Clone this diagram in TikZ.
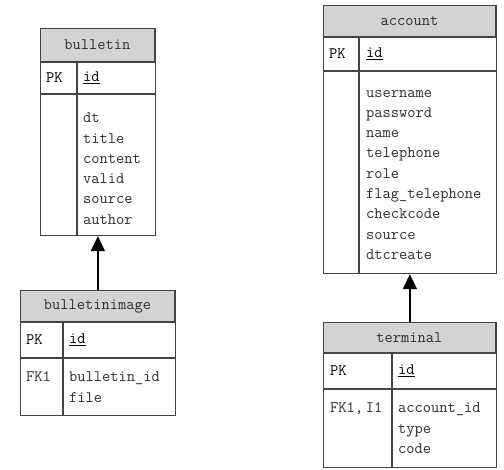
\documentclass[tikz,border=0pt]{standalone}
\usepackage{fontspec}
\usetikzlibrary{positioning,arrows.meta,fit,calc}

\definecolor{hdrgray}{HTML}{D3D3D3}
\definecolor{rulegray}{HTML}{444444}
\definecolor{txtgray}{HTML}{2E2E2E}

\begin{document}
\begin{tikzpicture}[
  x=1pt, y=-1pt,
  font=\ttfamily\fontsize{16pt}{20.3pt}\selectfont,
  head/.style={rectangle, draw=rulegray, fill=hdrgray, line width=0.9pt, text=txtgray, inner sep=0pt, anchor=north west},
  cell/.style={rectangle, draw=rulegray, line width=0.9pt, inner sep=0pt, anchor=north west},
  key/.style={anchor=west, inner sep=0pt, text=black},
  fields/.style={anchor=north west, inner sep=0pt, align=left, text=txtgray},
  table/.style={inner sep=0pt, draw=rulegray, line width=0.9pt},
  link/.style={-{Triangle[width=14pt,length=15pt]}, line width=1.8pt}
]
\useasboundingbox (0,0) rectangle (504,470);

% bulletin
\node[head, minimum width=114, minimum height=33] (bulletin-head) at (40,28) {bulletin};
\node[cell, minimum width=36, minimum height=31] (bulletin-pk) at (bulletin-head.south west) {};
\node[cell, minimum width=78, minimum height=31] (bulletin-id) at (bulletin-pk.north east) {};
\node[cell, minimum width=36, minimum height=141] (bulletin-k) at (bulletin-pk.south west) {};
\node[cell, minimum width=78, minimum height=141] (bulletin-f) at (bulletin-k.north east) {};
\node[key] (bulletin-pkt) at ($(bulletin-pk.west)+(6,0)$) {PK};
\node[key] (bulletin-idt) at ($(bulletin-id.west)+(6,0)$) {\underline{id}};
\node[fields] (bulletin-ft) at ($(bulletin-f.north west)+(6,19)$) {dt\\title\\content\\valid\\source\\author};
\node[table, fit=(bulletin-head)(bulletin-f)] (bulletin) {};

% bulletinimage
\node[head, minimum width=154, minimum height=31] (bulletinimage-head) at (20,290) {bulletinimage};
\node[cell, minimum width=42, minimum height=35] (bulletinimage-pk) at (bulletinimage-head.south west) {};
\node[cell, minimum width=112, minimum height=35] (bulletinimage-id) at (bulletinimage-pk.north east) {};
\node[cell, minimum width=42, minimum height=57] (bulletinimage-k) at (bulletinimage-pk.south west) {};
\node[cell, minimum width=112, minimum height=57] (bulletinimage-f) at (bulletinimage-k.north east) {};
\node[key] (bulletinimage-pkt) at ($(bulletinimage-pk.west)+(6,0)$) {PK};
\node[key] (bulletinimage-idt) at ($(bulletinimage-id.west)+(6,0)$) {\underline{id}};
\node[fields] (bulletinimage-kt) at ($(bulletinimage-k.north west)+(6,14)$) {FK1};
\node[fields] (bulletinimage-ft) at ($(bulletinimage-f.north west)+(6,14)$) {bulletin\_id\\file};
\node[table, fit=(bulletinimage-head)(bulletinimage-f)] (bulletinimage) {};

% account
\node[head, minimum width=172, minimum height=31] (account-head) at (323,5) {account};
\node[cell, minimum width=35, minimum height=33] (account-pk) at (account-head.south west) {};
\node[cell, minimum width=137, minimum height=33] (account-id) at (account-pk.north east) {};
\node[cell, minimum width=35, minimum height=202] (account-k) at (account-pk.south west) {};
\node[cell, minimum width=137, minimum height=202] (account-f) at (account-k.north east) {};
\node[key] (account-pkt) at ($(account-pk.west)+(6,0)$) {PK};
\node[key] (account-idt) at ($(account-id.west)+(7,0)$) {\underline{id}};
\node[fields] (account-ft) at ($(account-f.north west)+(7,19)$) {username\\password\\name\\telephone\\role\\flag\_telephone\\checkcode\\source\\dtcreate};
\node[table, fit=(account-head)(account-f)] (account) {};

% terminal
\node[head, minimum width=172, minimum height=30] (terminal-head) at (323,322) {terminal};
\node[cell, minimum width=68, minimum height=35] (terminal-pk) at (terminal-head.south west) {};
\node[cell, minimum width=104, minimum height=35] (terminal-id) at (terminal-pk.north east) {};
\node[cell, minimum width=68, minimum height=78] (terminal-k) at (terminal-pk.south west) {};
\node[cell, minimum width=104, minimum height=78] (terminal-f) at (terminal-k.north east) {};
\node[key] (terminal-pkt) at ($(terminal-pk.west)+(7,0)$) {PK};
\node[key] (terminal-idt) at ($(terminal-id.west)+(6,0)$) {\underline{id}};
\node[fields] (terminal-kt) at ($(terminal-k.north west)+(7,14)$) {FK1,\,I1};
\node[fields] (terminal-ft) at ($(terminal-f.north west)+(6,14)$) {account\_id\\type\\code};
\node[table, fit=(terminal-head)(terminal-f)] (terminal) {};

\draw[link] (bulletinimage.north) -- (bulletin.south);
\draw[link] (terminal.north) -- (account.south);
\end{tikzpicture}
\end{document}
